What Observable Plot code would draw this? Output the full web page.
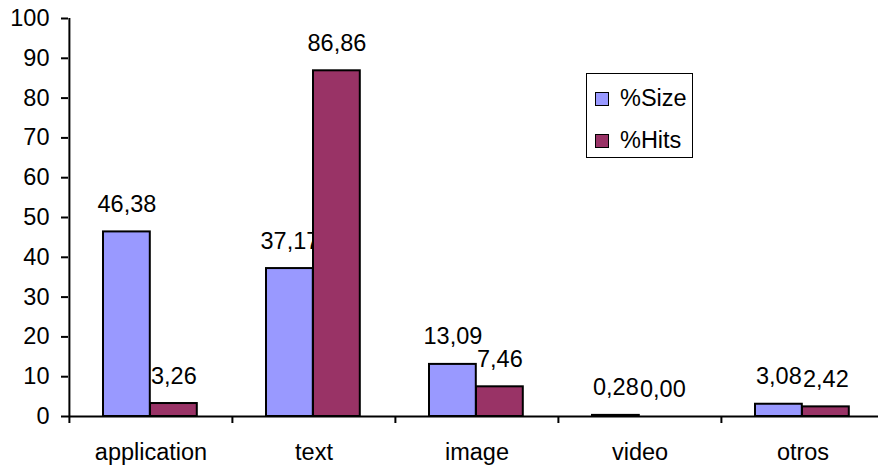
<!DOCTYPE html>
<html>
<head>
<meta charset="utf-8">
<script src="https://cdn.jsdelivr.net/npm/d3@7"></script>
<script src="https://cdn.jsdelivr.net/npm/@observablehq/plot@0.6"></script>
<style>
  html, body { margin: 0; padding: 0; background: white; overflow: hidden; }
  #wrap { position: relative; width: 878px; height: 468px; overflow: hidden; font-family: "Liberation Sans", Arial, sans-serif; }
  #legend { position: absolute; left: 586px; top: 73px; width: 105px; height: 83px; border: 1.5px solid #000; background: white; }
  .item { position: absolute; left: 8px; display: flex; align-items: center; font-size: 23.5px; line-height: 1; }
  .sw { width: 12px; height: 12px; border: 1.5px solid #000; margin-right: 11px; }
</style>
</head>
<body>
<div id="wrap"></div>
<script>
const categories = ["application", "text", "image", "video", "otros"];
const sizeValues = [46.38, 37.17, 13.09, 0.28, 3.08];
const hitsValues = [3.26, 86.86, 7.46, 0.00, 2.42];
const seriesNames = ["%Size", "%Hits"];
const seriesColors = ["#9999FF", "#993366"];
const yTicks = [0, 10, 20, 30, 40, 50, 60, 70, 80, 90, 100];

const rows = categories.map((c, i) => ({cat: c, size: sizeValues[i], hits: hitsValues[i]}));
const fmt = v => v.toFixed(2).replace(".", ",");

const W = 878, ML = 68, MR = -6;
const step = (W - MR - ML) / categories.length;
const padL = 34, barW = 47;
const sizeIns = [padL, step - padL - barW];
const hitsIns = [padL + barW, step - padL - 2 * barW];
const sizeDx = padL + barW / 2 - step / 2;
const hitsDx = padL + barW * 1.5 - step / 2;

const chart = Plot.plot({
  width: W, height: 468,
  marginLeft: ML, marginRight: MR, marginTop: 18, marginBottom: 52,
  style: {fontFamily: "Liberation Sans, Arial, sans-serif", fontSize: "23.5px", color: "#000", background: "white"},
  x: {domain: categories, padding: 0},
  y: {domain: [0, 100]},
  marks: [
    Plot.axisY({ticks: yTicks, tickSize: 7, tickPadding: 12, strokeWidth: 2, label: null, tickFormat: d => String(d)}),
    Plot.axisX({tickSize: 0, tickPadding: 27, label: null}),
    Plot.barY(rows, {x: "cat", y: "size", fill: seriesColors[0], stroke: "#000", strokeWidth: 2, insetLeft: sizeIns[0], insetRight: sizeIns[1]}),
    Plot.text(rows, {x: "cat", y: "size", text: d => fmt(d.size), dx: sizeDx, dy: -20, lineAnchor: "bottom", fill: "#000"}),
    Plot.barY(rows, {x: "cat", y: "hits", fill: seriesColors[1], stroke: "#000", strokeWidth: 2, insetLeft: hitsIns[0], insetRight: hitsIns[1]}),
    Plot.text(rows, {x: "cat", y: "hits", text: d => fmt(d.hits), dx: hitsDx, dy: -20, lineAnchor: "bottom", fill: "#000"}),
    Plot.ruleY([0], {strokeWidth: 2}),
    Plot.ruleX([categories[0]], {dx: -step / 2, y1: 0, y2: 100, strokeWidth: 2}),
    Plot.ruleX(categories, {dx: -step / 2, y1: 0, y2: 0, insetBottom: -7, strokeWidth: 2})
  ]
});

const wrap = document.getElementById("wrap");
wrap.appendChild(chart);

const legend = document.createElement("div");
legend.id = "legend";
seriesNames.forEach((name, i) => {
  const item = document.createElement("div");
  item.className = "item";
  item.style.top = (i === 0 ? 13 : 55) + "px";
  const sw = document.createElement("div");
  sw.className = "sw";
  sw.style.background = seriesColors[i];
  const t = document.createElement("span");
  t.textContent = name;
  item.appendChild(sw);
  item.appendChild(t);
  legend.appendChild(item);
});
wrap.appendChild(legend);
</script>
</body>
</html>
